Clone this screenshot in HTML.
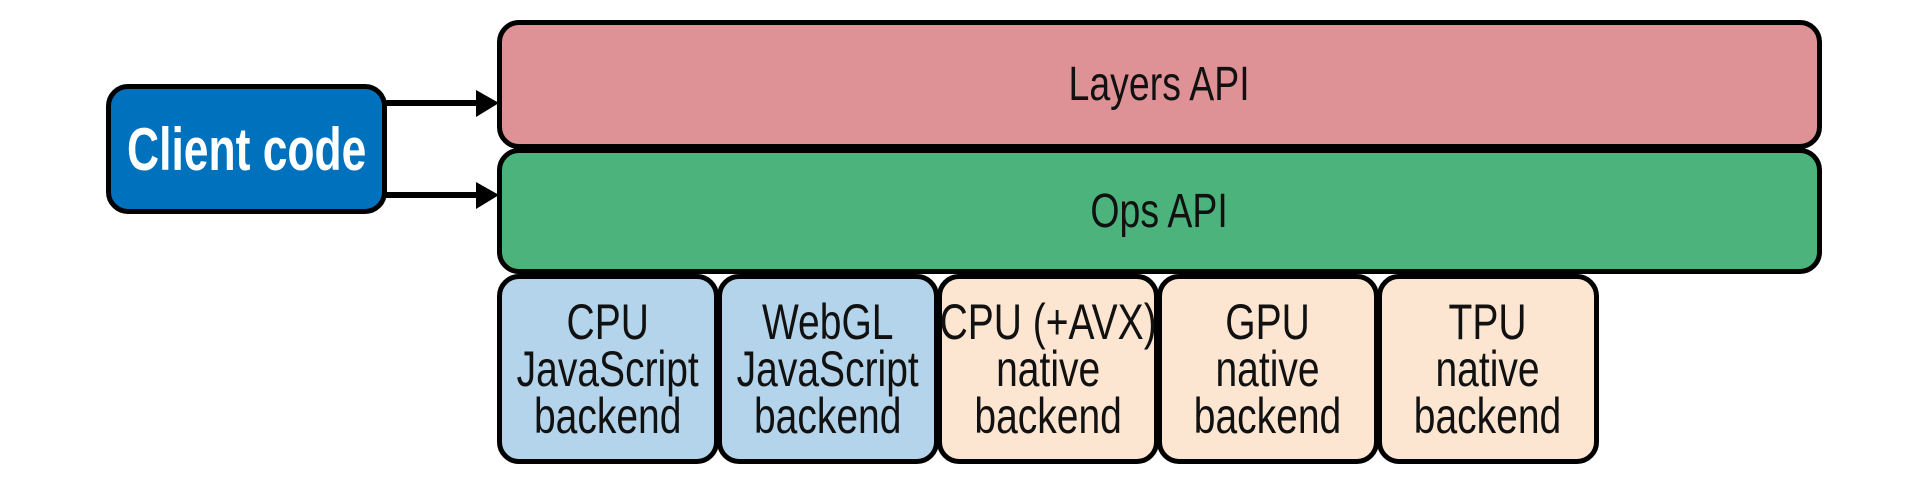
<!DOCTYPE html>
<html><head><style>
body{margin:0;width:1928px;height:486px;background:#fff;position:relative;overflow:hidden;font-family:"Liberation Sans",sans-serif;}
.b{position:absolute;box-sizing:border-box;border:5px solid #000;border-radius:22px;display:flex;align-items:center;justify-content:center;text-align:center;color:#111;}
.b span{display:inline-block;white-space:nowrap;transform:scaleX(.78);}
.bk{font-size:50px;line-height:47px;background:#B3D4EA;top:274px;height:190px;width:222px;}
.pe{background:#FDE6D1;}
</style></head><body>
<div class="b" style="left:106px;top:84px;width:281px;height:130px;background:#0071BC;color:#fff;font-size:60px;"><span style="transform:scaleX(.74);font-weight:bold">Client code</span></div>
<div class="b" style="left:497px;top:20px;width:1325px;height:129px;background:#DF9296;font-size:48px;"><span>Layers API</span></div>
<div class="b" style="left:497px;top:148px;width:1325px;height:126px;background:#4DB37C;font-size:48px;"><span>Ops API</span></div>
<div class="b bk" style="left:497px;"><span>CPU<br>JavaScript<br>backend</span></div>
<div class="b bk" style="left:717px;"><span>WebGL<br>JavaScript<br>backend</span></div>
<div class="b bk pe" style="left:937px;"><span>CPU (+AVX)<br>native<br>backend</span></div>
<div class="b bk pe" style="left:1157px;"><span>GPU<br>native<br>backend</span></div>
<div class="b bk pe" style="left:1377px;"><span>TPU<br>native<br>backend</span></div>
<svg style="position:absolute;left:0;top:0" width="1928" height="486">
<line x1="385" y1="103" x2="480" y2="103" stroke="#000" stroke-width="6"/>
<polygon points="476,90 499,103 476,117" fill="#000"/>
<line x1="385" y1="195" x2="480" y2="195" stroke="#000" stroke-width="6"/>
<polygon points="476,182 499,195 476,209" fill="#000"/>
</svg>
</body></html>
